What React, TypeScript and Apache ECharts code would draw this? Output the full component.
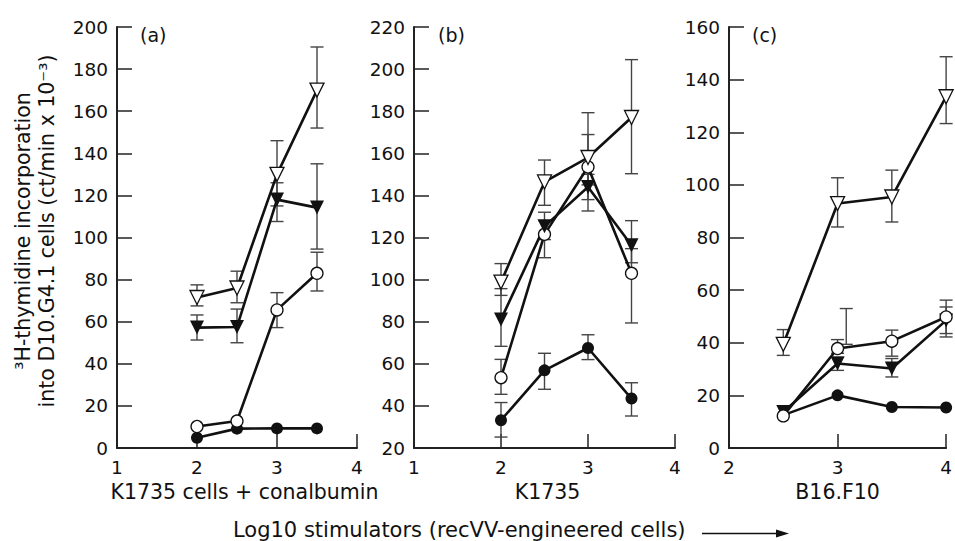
import React, { useEffect, useRef } from "react";
import * as echarts from "echarts";

// ---------- data ----------
// Panel (a): K1735 cells + conalbumin
const xA = [2, 2.5, 3, 3.5];
const aOpenTri = [71.5, 76, 130, 170];
const aOpenTriLo = [67.5, 69, 115, 152];
const aOpenTriHi = [77.5, 84, 146, 190.5];
const aFilledTri = [57.2, 57.5, 118, 114.2];
const aFilledTriLo = [51.3, 50, 107.6, 94.5];
const aFilledTriHi = [63.2, 66, 126, 135];
const aOpenCirc = [10.2, 12.8, 65.6, 83];
const aOpenCircLo = [null, null, 57.2, 74.6];
const aOpenCircHi = [null, null, 73.8, 93];
const aFilledCirc = [4.9, 9.2, 9.3, 9.3];

// Panel (b): K1735
const xB = [2, 2.5, 3, 3.5];
const bOpenTri = [98.8, 146.4, 158, 177];
const bOpenTriLo = [92.5, 135.3, 145, 150.3];
const bOpenTriHi = [107.6, 156.8, 179.3, 204.5];
const bFilledTri = [81.1, 125.3, 144, 116.3];
const bFilledTriLo = [68.3, 119, 132.6, 108];
const bFilledTriHi = [95.7, 132, 150, 128];
const bOpenCirc = [53.4, 121.5, 153.5, 103];
const bOpenCircLo = [45.5, 110.4, 138, 79.4];
const bOpenCircHi = [62.1, 128, 168.9, 114.7];
const bFilledCirc = [33.2, 56.9, 67.5, 43.5];
const bFilledCircLo = [25.2, 47.9, 62, 35.2];
const bFilledCircHi = [41.6, 65, 73.8, 51];

// Panel (c): B16.F10
const xC = [2.5, 3, 3.5, 4];
const cOpenTri = [39.4, 92.9, 95.4, 133.5];
const cOpenTriLo = [35.2, 84, 85.9, 123.3];
const cOpenTriHi = [45, 102.7, 105.6, 148.7];
const cOpenCirc = [12.2, 37.8, 40.6, 49.8];
const cOpenCircLo = [null, 36, 34.9, 43.5];
const cOpenCircHi = [null, 41.2, 44.8, 56.2];
const cFilledTri = [13.7, 32.1, 30.2, 48.5];
const cFilledTriLo = [null, 29.5, 27, 42.2];
const cFilledTriHi = [null, 34.5, 34, 53.6];
const cFilledCirc = [12.5, 20, 15.6, 15.4];
const cExtraBarX = [3.08];
const cExtraBarLo = [39.4];
const cExtraBarHi = [53];

// axes
const xRanges = [
  [1, 4],
  [1, 4],
  [2, 4],
];
const yRanges = [
  [0, 200],
  [20, 220],
  [0, 160],
];
const xNames = ["K1735 cells + conalbumin", "K1735", "B16.F10"];
const panelLabels = ["(a)", "(b)", "(c)"];

const FONT = "DejaVu Sans";
const INK = "#111";

function bars(xs: number[], lo: (number | null)[], hi: (number | null)[]) {
  const out: number[][] = [];
  xs.forEach((x, i) => {
    const l = lo[i];
    const h = hi[i];
    if (l != null && h != null) out.push([x, l, h]);
  });
  return out;
}

function pts(xs: number[], ys: number[]) {
  return xs.map((x, i) => [x, ys[i]]);
}

type Kind = "openTri" | "filledTri" | "openCirc" | "filledCirc";

function lineSeries(idx: number, xs: number[], ys: number[], kind: Kind) {
  const tri = kind === "openTri" || kind === "filledTri";
  const open = kind === "openTri" || kind === "openCirc";
  return {
    type: "line",
    xAxisIndex: idx,
    yAxisIndex: idx,
    data: pts(xs, ys),
    symbol: tri ? "triangle" : "circle",
    symbolRotate: tri ? 180 : 0,
    symbolSize: tri ? 14 : 12,
    showAllSymbol: true,
    clip: false,
    z: 3,
    lineStyle: { color: INK, width: 2.6 },
    itemStyle: {
      color: open ? "#fff" : INK,
      borderColor: INK,
      borderWidth: open ? 1.3 : 0,
      opacity: 1,
    },
    emphasis: { disabled: true },
  };
}

function errSeries(idx: number, data: number[][]) {
  return {
    type: "custom",
    xAxisIndex: idx,
    yAxisIndex: idx,
    data,
    z: 2,
    clip: false,
    encode: { x: 0, y: [1, 2] },
    renderItem: (params: any, api: any) => {
      const x = api.value(0);
      const lo = api.value(1);
      const hi = api.value(2);
      const a = api.coord([x, lo]);
      const b = api.coord([x, hi]);
      const hw = 6.5;
      const style = { stroke: "#444", lineWidth: 1.4 };
      return {
        type: "group",
        children: [
          { type: "line", shape: { x1: a[0], y1: a[1], x2: b[0], y2: b[1] }, style },
          { type: "line", shape: { x1: a[0] - hw, y1: a[1], x2: a[0] + hw, y2: a[1] }, style },
          { type: "line", shape: { x1: b[0] - hw, y1: b[1], x2: b[0] + hw, y2: b[1] }, style },
        ],
      };
    },
  };
}

export default function App() {
  const ref = useRef<HTMLDivElement>(null);

  useEffect(() => {
    if (!ref.current) return;
    const chart = echarts.init(ref.current, undefined, { renderer: "svg" });

    const grids = [
      { left: 117, top: 27, width: 240, bottom: 93 },
      { left: 414, top: 27, width: 261, bottom: 93 },
      { left: 729, top: 27, width: 224, bottom: 93 },
    ];

    const namePads = [
      [0, 0, 0, 15],
      [0, 0, 0, 6],
      [0, 0, 0, 0],
    ];

    const xAxis = xRanges.map((r, i) => ({
      type: "value",
      gridIndex: i,
      min: r[0],
      max: r[1],
      interval: 1,
      name: xNames[i],
      nameLocation: "middle",
      nameGap: 44,
      nameTextStyle: {
        fontSize: 20.5,
        color: INK,
        fontFamily: FONT,
        verticalAlign: "middle",
        padding: namePads[i],
      },
      axisLine: { show: true, onZero: false, lineStyle: { color: "#222", width: 2 } },
      axisTick: { show: true, inside: true, length: 14, lineStyle: { color: "#222", width: 1.5 } },
      axisLabel: { fontSize: 18.5, color: INK, fontFamily: FONT, margin: 10 },
      splitLine: { show: false },
    }));

    const yAxis = yRanges.map((r, i) => ({
      type: "value",
      gridIndex: i,
      min: r[0],
      max: r[1],
      interval: 20,
      axisLine: { show: true, onZero: false, lineStyle: { color: "#222", width: 2 } },
      axisTick: { show: true, inside: true, length: 15, lineStyle: { color: "#222", width: 1.5 } },
      axisLabel: { fontSize: 18.5, color: INK, fontFamily: FONT, margin: 9 },
      splitLine: { show: false },
    }));

    const series: any[] = [
      errSeries(0, [
        ...bars(xA, aOpenTriLo, aOpenTriHi),
        ...bars(xA, aFilledTriLo, aFilledTriHi),
        ...bars(xA, aOpenCircLo, aOpenCircHi),
      ]),
      lineSeries(0, xA, aFilledCirc, "filledCirc"),
      lineSeries(0, xA, aOpenCirc, "openCirc"),
      lineSeries(0, xA, aFilledTri, "filledTri"),
      lineSeries(0, xA, aOpenTri, "openTri"),

      errSeries(1, [
        ...bars(xB, bOpenTriLo, bOpenTriHi),
        ...bars(xB, bFilledTriLo, bFilledTriHi),
        ...bars(xB, bOpenCircLo, bOpenCircHi),
        ...bars(xB, bFilledCircLo, bFilledCircHi),
      ]),
      lineSeries(1, xB, bFilledCirc, "filledCirc"),
      lineSeries(1, xB, bOpenCirc, "openCirc"),
      lineSeries(1, xB, bFilledTri, "filledTri"),
      lineSeries(1, xB, bOpenTri, "openTri"),

      errSeries(2, [
        ...bars(xC, cOpenTriLo, cOpenTriHi),
        ...bars(xC, cOpenCircLo, cOpenCircHi),
        ...bars(xC, cFilledTriLo, cFilledTriHi),
        ...bars(cExtraBarX, cExtraBarLo, cExtraBarHi),
      ]),
      lineSeries(2, xC, cFilledCirc, "filledCirc"),
      lineSeries(2, xC, cFilledTri, "filledTri"),
      lineSeries(2, xC, cOpenCirc, "openCirc"),
      lineSeries(2, xC, cOpenTri, "openTri"),
    ];

    const labelX = [140, 438, 752];
    const graphic: any[] = [
      ...panelLabels.map((t, i) => ({
        type: "text",
        x: labelX[i],
        y: 35,
        style: { text: t, fontSize: 19, fontFamily: FONT, fill: INK, verticalAlign: "middle" },
      })),
      {
        type: "text",
        x: 35,
        y: 231,
        rotation: Math.PI / 2,
        style: {
          text: "³H-thymidine incorporation\ninto D10.G4.1 cells (ct/min x 10⁻³)",
          fontSize: 20.5,
          lineHeight: 24,
          fontFamily: FONT,
          fill: INK,
          align: "center",
          verticalAlign: "middle",
        },
      },
      {
        type: "text",
        x: 233,
        y: 530,
        style: {
          text: "Log10 stimulators (recVV-engineered cells)",
          fontSize: 21,
          lineHeight: 20,
          fontFamily: FONT,
          fill: INK,
          verticalAlign: "middle",
        },
      },
      {
        type: "line",
        shape: { x1: 702, y1: 533.5, x2: 780, y2: 533.5 },
        style: { stroke: INK, lineWidth: 1.3 },
      },
      {
        type: "polygon",
        shape: { points: [[776, 529.5], [789, 533.5], [776, 537.5]] },
        style: { fill: INK },
      },
    ];

    chart.setOption({
      animation: false,
      backgroundColor: "#fff",
      grid: grids,
      xAxis,
      yAxis,
      series,
      graphic,
    });

    return () => chart.dispose();
  }, []);

  return (
    <div
      ref={ref}
      style={{ position: "fixed", left: 0, top: 0, width: 955, height: 541, background: "#fff" }}
    />
  );
}
